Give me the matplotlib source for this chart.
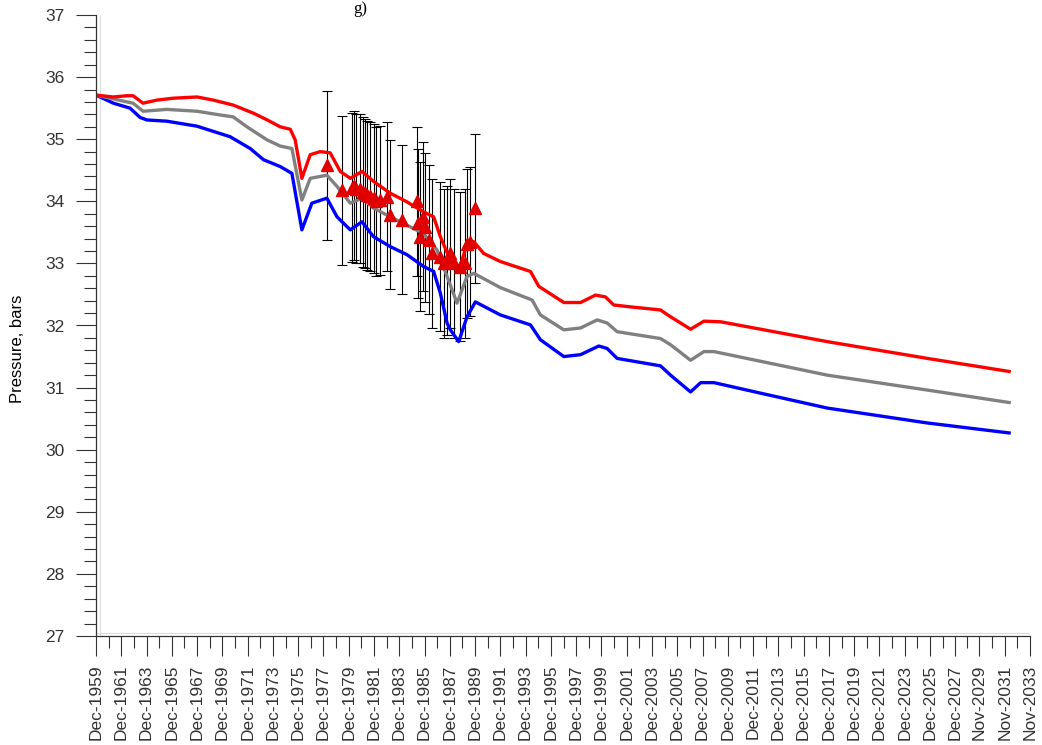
import matplotlib
matplotlib.use("Agg")
import matplotlib.pyplot as plt
from matplotlib.ticker import MultipleLocator, FixedLocator

plt.rcParams['font.family'] = ['Liberation Sans', 'DejaVu Sans']

# --- Données (année décimale, pression en bars) ---
red_years = [1959.92, 1961.27, 1962.37, 1962.85, 1963.64, 1964.75, 1966.02, 1967.92,
             1969.19, 1970.77, 1972.36, 1973.47, 1974.49, 1975.29, 1975.68, 1976.21,
             1976.87, 1977.66, 1978.45, 1979.25, 1980.04, 1980.97, 1981.88, 1983.21,
             1984.53, 1985.84, 1986.64, 1987.17, 1987.96, 1988.62, 1989.28, 1989.81,
             1990.60, 1991.92, 1994.30, 1994.96, 1996.94, 1998.26, 1999.45, 2000.24,
             2000.89, 2002.22, 2004.59, 2005.39, 2006.97, 2008.03, 2009.35, 2017.80,
             2025.72, 2032.18]
red_vals = [35.71, 35.68, 35.70, 35.70, 35.58, 35.63, 35.66, 35.68,
            35.63, 35.55, 35.42, 35.31, 35.20, 35.16, 34.99, 34.37,
            34.75, 34.80, 34.78, 34.48, 34.37, 34.48, 34.32, 34.13,
            33.99, 33.83, 33.75, 33.43, 33.05, 32.87, 33.32, 33.35,
            33.16, 33.03, 32.87, 32.63, 32.37, 32.37, 32.49, 32.46,
            32.33, 32.30, 32.25, 32.14, 31.94, 32.07, 32.06, 31.74,
            31.47, 31.26]

gray_years = [1959.92, 1961.27, 1962.37, 1962.85, 1963.64, 1965.52, 1967.92, 1969.74,
              1970.77, 1971.86, 1973.44, 1974.49, 1975.42, 1976.21, 1976.87, 1978.19,
              1978.99, 1980.04, 1980.97, 1981.88, 1983.21, 1985.84, 1986.90, 1987.70,
              1988.49, 1989.28, 1989.81, 1991.92, 1994.43, 1995.09, 1996.94, 1998.26,
              1999.58, 2000.37, 2001.16, 2004.59, 2005.39, 2006.97, 2008.03, 2008.82,
              2017.80, 2025.72, 2032.18]
gray_vals = [35.71, 35.65, 35.60, 35.58, 35.45, 35.48, 35.45, 35.39,
             35.36, 35.20, 34.99, 34.89, 34.85, 34.02, 34.37, 34.42,
             34.24, 33.97, 34.05, 33.89, 33.75, 33.48, 33.22, 32.79,
             32.36, 32.79, 32.84, 32.61, 32.41, 32.17, 31.93, 31.96,
             32.09, 32.04, 31.90, 31.79, 31.69, 31.44, 31.58, 31.58,
             31.20, 30.96, 30.76]

blue_years = [1959.92, 1961.29, 1962.61, 1963.41, 1963.94, 1965.52, 1967.90, 1970.53,
              1972.12, 1973.17, 1974.49, 1975.42, 1976.21, 1977.00, 1978.19, 1978.99,
              1980.04, 1980.97, 1981.88, 1983.21, 1984.53, 1985.84, 1986.64, 1987.17,
              1987.70, 1987.96, 1988.62, 1989.28, 1989.94, 1991.92, 1994.30, 1995.09,
              1996.94, 1998.26, 1999.71, 2000.37, 2001.16, 2004.59, 2005.39, 2006.97,
              2007.77, 2008.82, 2012.52, 2017.80, 2025.72, 2032.18]
blue_vals = [35.71, 35.58, 35.50, 35.35, 35.31, 35.29, 35.21, 35.04,
             34.85, 34.67, 34.56, 34.45, 33.54, 33.97, 34.05, 33.75,
             33.54, 33.67, 33.43, 33.27, 33.14, 32.95, 32.87, 32.52,
             32.04, 31.93, 31.74, 32.14, 32.38, 32.17, 32.01, 31.77,
             31.50, 31.53, 31.67, 31.63, 31.47, 31.35, 31.20, 30.93,
             31.08, 31.08, 30.91, 30.67, 30.43, 30.27]

# mesures observées (triangles) et barres d'erreur
obs_years = [1978.19, 1979.38, 1980.17, 1980.30, 1980.51, 1980.83, 1981.05, 1981.23,
             1981.40, 1981.62, 1981.88, 1982.10, 1982.41, 1982.94, 1983.21, 1984.13,
             1985.32, 1985.40, 1985.59, 1985.80, 1985.98, 1986.25, 1986.51, 1987.17,
             1987.44, 1987.70, 1987.96, 1988.22, 1988.75, 1989.10, 1989.28, 1989.54,
             1989.94]
obs_vals = [34.58, 34.18, 34.22, 34.25, 34.20, 34.20, 34.15, 34.13,
            34.10, 34.08, 34.05, 34.00, 34.02, 34.07, 33.78, 33.70,
            34.00, 33.65, 33.43, 33.75, 33.58, 33.38, 33.16, 33.11,
            33.00, 33.05, 33.16, 33.00, 32.95, 33.00, 33.32, 33.35,
            33.89]
obs_err = 1.2

tick_labels = ['Dec-1959', 'Dec-1961', 'Dec-1963', 'Dec-1965', 'Dec-1967', 'Dec-1969',
               'Dec-1971', 'Dec-1973', 'Dec-1975', 'Dec-1977', 'Dec-1979', 'Dec-1981',
               'Dec-1983', 'Dec-1985', 'Dec-1987', 'Dec-1989', 'Dec-1991', 'Dec-1993',
               'Dec-1995', 'Dec-1997', 'Dec-1999', 'Dec-2001', 'Dec-2003', 'Dec-2005',
               'Dec-2007', 'Dec-2009', 'Dec-2011', 'Dec-2013', 'Dec-2015', 'Dec-2017',
               'Dec-2019', 'Dec-2021', 'Dec-2023', 'Dec-2025', 'Dec-2027', 'Nov-2029',
               'Nov-2031', 'Nov-2033']

# position des ticks à partir des libellés (1er jour du mois)
months = {'Nov': 10, 'Dec': 11}
tick_pos = [int(l[4:]) + months[l[:3]] / 12 for l in tick_labels]
minor_pos = [(a + b) / 2 for a, b in zip(tick_pos[:-1], tick_pos[1:])]

# --- Figure ---
fig = plt.figure(figsize=(10.42, 7.45), dpi=100)
ax = fig.add_axes([96 / 1042, 1 - 636 / 745, 934 / 1042, 621 / 745])

ax.errorbar(obs_years, obs_vals, yerr=obs_err, fmt='none', ecolor='black',
            elinewidth=0.8, capsize=3.5, capthick=0.8, zorder=1)
ax.plot(blue_years, blue_vals, color='#0000ff', lw=2.4, zorder=2)
ax.plot(gray_years, gray_vals, color='#808080', lw=2.4, zorder=2)
ax.plot(red_years, red_vals, color='#ff0000', lw=2.4, zorder=2)
ax.plot(obs_years, obs_vals, '^', color='#e00000', ms=9, mec='#e00000', zorder=3)

# fines lignes grises du cadre
ax.axvline(tick_pos[0] + 0.32, color='#dcdcdc', lw=0.8, zorder=0)
ax.axhline(27.05, color='#dcdcdc', lw=0.8, zorder=0)

ax.set_xlim(tick_pos[0], tick_pos[-1])
ax.set_ylim(27, 37)

ax.xaxis.set_major_locator(FixedLocator(tick_pos))
ax.xaxis.set_minor_locator(FixedLocator(minor_pos))
ax.set_xticklabels(tick_labels, rotation=90)
ax.yaxis.set_major_locator(MultipleLocator(1))
ax.yaxis.set_minor_locator(MultipleLocator(0.2))

ax.tick_params(axis='both', which='major', length=14.5, width=0.8, color='#333333',
               labelsize=12.5, labelcolor='#333333')
ax.tick_params(axis='both', which='minor', length=8.5, width=0.8, color='#333333')
ax.tick_params(axis='x', which='major', pad=6)
ax.tick_params(axis='y', which='major', pad=8)

for s in ['top', 'right']:
    ax.spines[s].set_visible(False)
for s in ['left', 'bottom']:
    ax.spines[s].set_color('#333333')
    ax.spines[s].set_linewidth(0.9)

ax.set_ylabel('Pressure, bars', fontsize=12)
ax.yaxis.set_label_coords(-0.076, 0.462)

# fragment de titre en haut de l'image
fig.text(353 / 1042, 1 - 1 / 745, 'g)', fontsize=12, family=['Liberation Serif', 'DejaVu Serif'],
         ha='left', va='top')

fig.savefig('out.png', dpi=100)
